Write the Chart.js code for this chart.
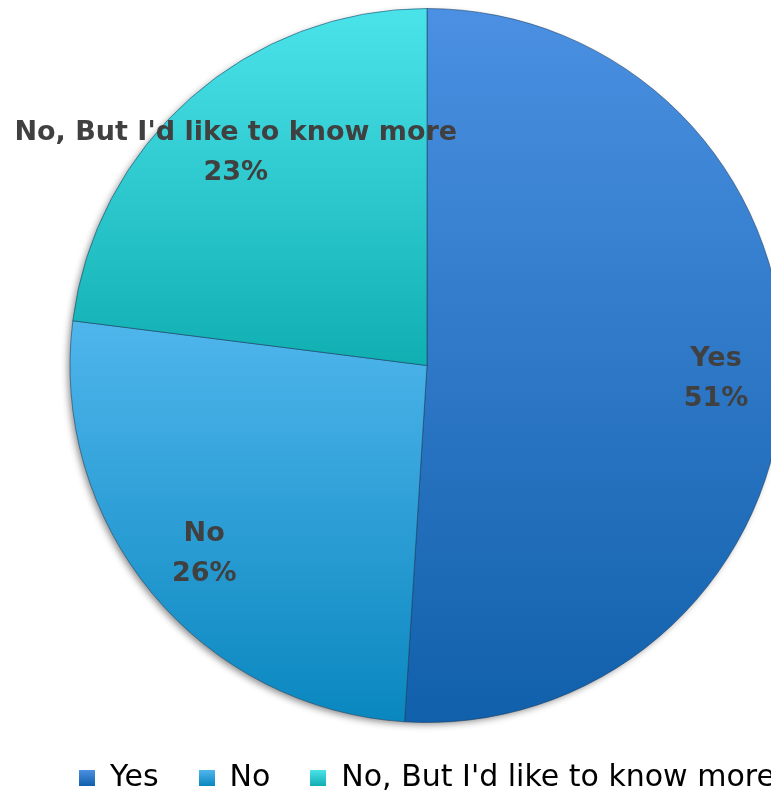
<!DOCTYPE html>
<html>
<head>
<meta charset="utf-8">
<script src="https://cdn.jsdelivr.net/npm/chart.js@4.4.1/dist/chart.umd.min.js"></script>
<style>
html,body{margin:0;padding:0;background:#fff;overflow:hidden;}
#wrap{width:854px;height:803px;}
</style>
</head>
<body>
<div id="wrap"><canvas id="pieChart" width="854" height="803"></canvas></div>
<script>
/* survey answers */
const answers = ['Yes', 'No', "No, But I'd like to know more"];
const shares = [51, 26, 23];

/* top / bottom colour of each slice */
const topColors = ['#4b90e2', '#4fb6ec', '#4be3ea'];
const bottomColors = ['#1160ab', '#0a87bf', '#10afb2'];

/* vertical gradient across one arc's bounding box */
function arcGradient(c, arc, top, bottom){
  let minY = arc.y, maxY = arc.y;
  for(let k = 0; k <= 60; k++){
    const a = arc.startAngle + (arc.endAngle - arc.startAngle) * k / 60;
    const y = arc.y + Math.sin(a) * arc.outerRadius;
    minY = Math.min(minY, y);
    maxY = Math.max(maxY, y);
  }
  const g = c.createLinearGradient(0, minY, 0, maxY);
  g.addColorStop(0, top);
  g.addColorStop(1, bottom);
  return g;
}

/* shadow under the pie, then gradient fills for the slices */
const pieStyle = {
  id:'pieStyle',
  beforeDatasetsDraw(chart){
    const c = chart.ctx;
    const arcs = chart.getDatasetMeta(0).data;
    if(!arcs.length) return;
    const a0 = arcs[0];
    c.save();
    c.shadowColor = 'rgba(0,0,0,0.45)';
    c.shadowBlur = 7;
    c.shadowOffsetX = -3;
    c.shadowOffsetY = 3;
    c.fillStyle = '#888';
    c.beginPath();
    c.arc(a0.x, a0.y, a0.outerRadius - 1, 0, Math.PI * 2);
    c.fill();
    c.restore();
    arcs.forEach((arc, i) => {
      arc.options.backgroundColor = arcGradient(c, arc, topColors[i], bottomColors[i]);
    });
  }
};

/* legend squares with the same gradients */
function legendSwatch(i){
  const s = document.createElement('canvas');
  s.width = 16; s.height = 16;
  const c = s.getContext('2d');
  const g = c.createLinearGradient(0, 0, 0, 16);
  g.addColorStop(0, topColors[i]);
  g.addColorStop(1, bottomColors[i]);
  c.fillStyle = g;
  c.fillRect(0, 0, 16, 16);
  return s;
}

/* category name and percentage inside each slice */
const sliceLabels = {
  id:'sliceLabels',
  afterDatasetsDraw(chart){
    const c = chart.ctx;
    const meta = chart.getDatasetMeta(0);
    c.save();
    c.fillStyle = '#404040';
    c.font = 'bold 27px "DejaVu Sans"';
    c.textAlign = 'center';
    c.textBaseline = 'middle';
    meta.data.forEach((arc, i) => {
      const mid = (arc.startAngle + arc.endAngle) / 2;
      const r = arc.outerRadius * 0.81;
      const x = arc.x + Math.cos(mid) * r;
      const y = arc.y + Math.sin(mid) * r + 4;
      c.fillText(answers[i], x, y - 20);
      c.fillText(shares[i] + '%', x, y + 20);
    });
    c.restore();
  }
};

new Chart(
document.getElementById('pieChart'),
{
type:'pie',

data:{
labels:answers,
datasets:[
{
data:shares,
backgroundColor:bottomColors,
borderColor:'rgba(25,60,95,0.55)',
borderWidth:1
}
]
},

options:{
responsive:false,
animation:false,
layout:{padding:{top:8,bottom:0}},
plugins:{
tooltip:{enabled:false},
legend:{
position:'bottom',
labels:{
usePointStyle:true,
boxWidth:16,
boxHeight:16,
padding:40,
color:'#595959',
font:{family:'"DejaVu Sans"',size:30},
generateLabels(chart){
return answers.map((a, i) => ({
text:a,
pointStyle:legendSwatch(i),
fillStyle:bottomColors[i],
strokeStyle:bottomColors[i],
lineWidth:0,
index:i
}));
}
}
}
}
},

plugins:[pieStyle, sliceLabels]
}
);
</script>
</body>
</html>
